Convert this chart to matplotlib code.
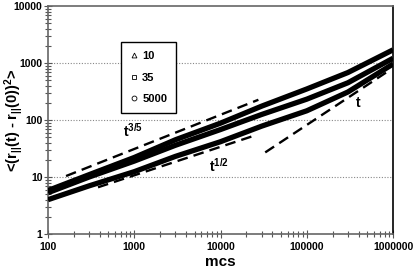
import matplotlib
matplotlib.use("Agg")
import matplotlib.pyplot as plt
from matplotlib.lines import Line2D
import numpy as np

plt.rcParams['font.family'] = ['Liberation Sans', 'DejaVu Sans']
plt.rcParams['mathtext.fontset'] = 'custom'
plt.rcParams['mathtext.rm'] = 'Liberation Sans'
plt.rcParams['mathtext.it'] = 'Liberation Sans:bold'
plt.rcParams['mathtext.bf'] = 'Liberation Sans:bold'
plt.rcParams['mathtext.default'] = 'bf'

# ---- data ----
mcs = [100, 300, 1000, 3000, 10000, 30000, 100000, 300000, 1000000]
msd_5000 = [5.8, 11.0, 22.0, 45.0, 88.0, 175.0, 350.0, 680.0, 1700.0]
msd_35 = [5.3, 10.0, 19.0, 36.0, 68.0, 125.0, 232.0, 450.0, 1210.0]
msd_10 = [4.0, 7.0, 12.4, 23.0, 41.6, 78.0, 145.0, 310.0, 960.0]
series_labels = ['10', '35', '5000']

# guide power laws: (x_start, x_end, y_start, exponent)
guide_35 = (162, 27500, 10.4, 0.6)
guide_12 = (380, 25000, 6.6, 0.5)
guide_1 = (33000, 870000, 27.0, 1.0)

fig = plt.figure(figsize=(4.15, 2.69), dpi=100)
ax = fig.add_axes([48/415, 35/269, 345/415, 228/269])

band_lw = 3.8
for ys in (msd_10, msd_35, msd_5000):
    ax.plot(mcs, ys, color='black', lw=band_lw, solid_capstyle='butt', zorder=3)

for (x0, x1, y0, p) in (guide_35, guide_12, guide_1):
    xs = [x0, x1]
    ys = [y0, y0 * (x1 / x0) ** p]
    ax.plot(xs, ys, color='black', lw=1.7, linestyle=(0, (4.5, 2.6)), zorder=4)

ax.set_xscale('log')
ax.set_yscale('log')
ax.set_xlim(100, 1000000)
ax.set_ylim(1, 10000)

xt = [100, 1000, 10000, 100000, 1000000]
yt = [1, 10, 100, 1000, 10000]
ax.set_xticks(xt)
ax.set_xticklabels([str(v) for v in xt])
ax.set_yticks(yt)
ax.set_yticklabels([str(v) for v in yt])
for lab in ax.get_xticklabels() + ax.get_yticklabels():
    lab.set_fontweight('bold')
    lab.set_fontsize(7.5)

ax.tick_params(axis='both', which='major', direction='inout', length=6, width=0.8,
               color='#555555')
ax.tick_params(axis='y', which='major', pad=1)
ax.tick_params(axis='x', which='major', pad=3)
ax.tick_params(axis='both', which='minor', direction='inout', length=4, width=0.8,
               color='#555555')

for v in [10, 100, 1000]:
    ax.axhline(v, color='#888888', lw=0.8, linestyle=(0, (1, 1.5)), zorder=1)

for s in ['left', 'top', 'bottom']:
    ax.spines[s].set_color('#666666')
    ax.spines[s].set_linewidth(1.2)
ax.spines['right'].set_color('black')
ax.spines['right'].set_linewidth(1.2)

ax.set_xlabel('mcs', fontsize=11, fontweight='bold', labelpad=2)
ax.set_ylabel(r'<(r$_{||}$(t) - r$_{||}$(0))$^{2}$>', fontsize=10.5, fontweight='bold')
ax.yaxis.set_label_coords(-0.068, 0.5)

ax.text(975, 64, r'$t^{3/5}$', fontsize=10, ha='center', va='center')
ax.text(9480, 15.6, r'$t^{1/2}$', fontsize=10, ha='center', va='center')
ax.text(392000, 199, 't', fontsize=10, fontweight='bold', ha='center', va='center')

handles = [Line2D([], [], linestyle='none', marker=m, markersize=3.5,
                  markerfacecolor='white', markeredgecolor='black', markeredgewidth=0.6)
           for m in ['^', 's', 'o']]
leg = ax.legend(handles, series_labels, loc='upper left', bbox_to_anchor=(0.2116, 0.842),
                frameon=True, fancybox=False, edgecolor='black', framealpha=1,
                prop={'weight': 'bold', 'size': 8}, handlelength=0.8, handletextpad=0.3,
                labelspacing=1.05, borderpad=0.8, borderaxespad=0)
leg.get_frame().set_linewidth(1.0)

fig.savefig('out.png', dpi=100)
